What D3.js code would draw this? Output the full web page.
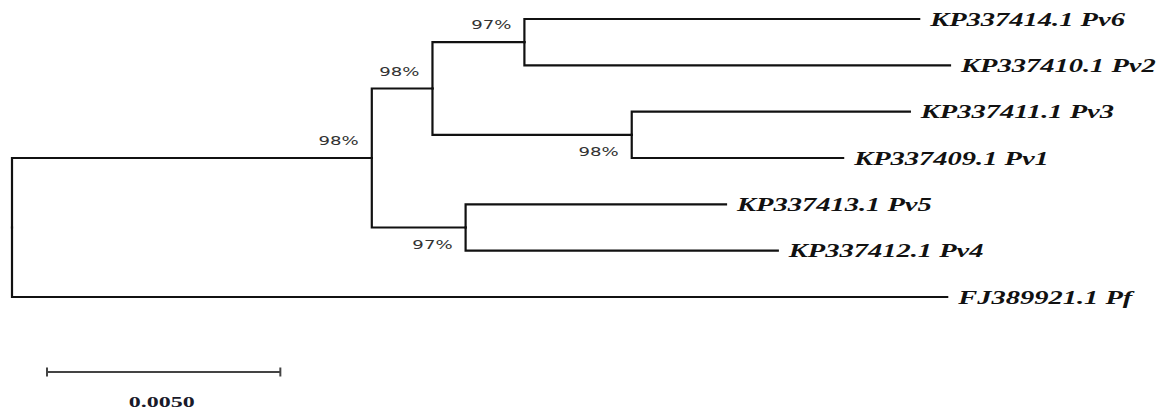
<!DOCTYPE html>
<html>
<head>
<meta charset="utf-8">
<script src="https://cdn.jsdelivr.net/npm/d3@7"></script>
<style>
  html, body { margin: 0; padding: 0; background: #fff; }
  svg { display: block; }
</style>
</head>
<body>
<svg id="tree" width="1166" height="411"></svg>
<script>
// Tree topology: every node with its parent, in drawing order (top to bottom)
const nodeIds = ["root", "A", "B", "C", "D", "E",
  "KP337414.1 Pv6", "KP337410.1 Pv2", "KP337411.1 Pv3", "KP337409.1 Pv1",
  "KP337413.1 Pv5", "KP337412.1 Pv4", "FJ389921.1 Pf"];
const parentIds = [null, "root", "A", "B", "B", "A",
  "C", "C", "D", "D", "E", "E", "root"];
// Branch length (substitutions per site) leading into each node
const branchLengths = [0, 0.00771, 0.0013, 0.00197, 0.00427, 0.00201,
  0.00846, 0.00912, 0.00596, 0.00453, 0.00558, 0.00669, 0.02004];
// Bootstrap support (%) at internal nodes
const bootstrap = [null, 98, 98, 97, 98, 97, null, null, null, null, null, null, null];
// Scale bar
const scaleBarValue = 0.005;
const scaleBarLabel = "0.0050";

const svg = d3.select("#tree");

const table = nodeIds.map((id, i) => ({
  id, parent: parentIds[i], length: branchLengths[i], support: bootstrap[i]
}));
const root = d3.stratify().id(d => d.id).parentId(d => d.parent)(table);

// cumulative distance from the root
root.each(n => { n.dist = n.parent ? n.parent.dist + n.data.length : 0; });

const leaves = root.leaves();
const x = d3.scaleLinear()
  .domain([0, d3.max(leaves, d => d.dist)])
  .range([12, 950]);
const y = d3.scalePoint()
  .domain(leaves.map(d => d.id))
  .range([19, 297]);

// vertical position: leaves from the point scale, internal nodes at child midpoints
root.eachAfter(n => {
  n.py = n.children ? (n.children[0].py + n.children[n.children.length - 1].py) / 2 : y(n.id);
  n.px = x(n.dist);
});

const g = svg.append("g")
  .attr("fill", "none")
  .attr("stroke", "#111")
  .attr("stroke-width", 2.2)
  .attr("stroke-linecap", "square");

// rectangular (elbow) links
g.selectAll("path.link")
  .data(root.links())
  .join("path")
  .attr("class", "link")
  .attr("d", l => `M${l.source.px},${l.source.py}V${l.target.py}H${l.target.px}`);

// taxon labels (wide bold italic serif)
svg.append("g").selectAll("text")
  .data(leaves)
  .join("text")
  .attr("transform", d => `translate(${d.px + 11},${d.py + 6.5}) scale(1.5,1)`)
  .attr("font-family", "'Liberation Serif', 'Times New Roman', serif")
  .attr("font-weight", "bold")
  .attr("font-style", "italic")
  .attr("font-size", 19)
  .attr("fill", "#111")
  .text(d => d.id);

// bootstrap values: upper child labelled above its stem, lower child below
const internal = root.descendants().filter(n => n.data.support != null);
svg.append("g").selectAll("text")
  .data(internal)
  .join("text")
  .attr("transform", d => {
    const upper = d.parent.children[0] === d;
    return `translate(${d.px - 13},${upper ? d.py - 13 : d.py + 21}) scale(1.45,1)`;
  })
  .attr("text-anchor", "end")
  .attr("font-family", "'DejaVu Sans', Verdana, sans-serif")
  .attr("font-size", 12.5)
  .attr("fill", "#333")
  .text(d => d.data.support + "%");

// scale bar
const barX0 = 47, barY = 372;
const barX1 = barX0 + (x(scaleBarValue) - x(0));
const bar = svg.append("g").attr("stroke", "#444").attr("stroke-width", 2);
bar.append("line").attr("x1", barX0).attr("x2", barX1).attr("y1", barY).attr("y2", barY);
bar.append("line").attr("x1", barX0).attr("x2", barX0).attr("y1", barY - 4.5).attr("y2", barY + 4.5);
bar.append("line").attr("x1", barX1).attr("x2", barX1).attr("y1", barY - 4.5).attr("y2", barY + 4.5);
svg.append("text")
  .attr("transform", `translate(${(barX0 + barX1) / 2 - 2},407) scale(1.6,1)`)
  .attr("text-anchor", "middle")
  .attr("font-family", "'Liberation Serif', 'Times New Roman', serif")
  .attr("font-weight", "bold")
  .attr("font-size", 15)
  .attr("fill", "#1a1a2a")
  .text(scaleBarLabel);
</script>
</body>
</html>
